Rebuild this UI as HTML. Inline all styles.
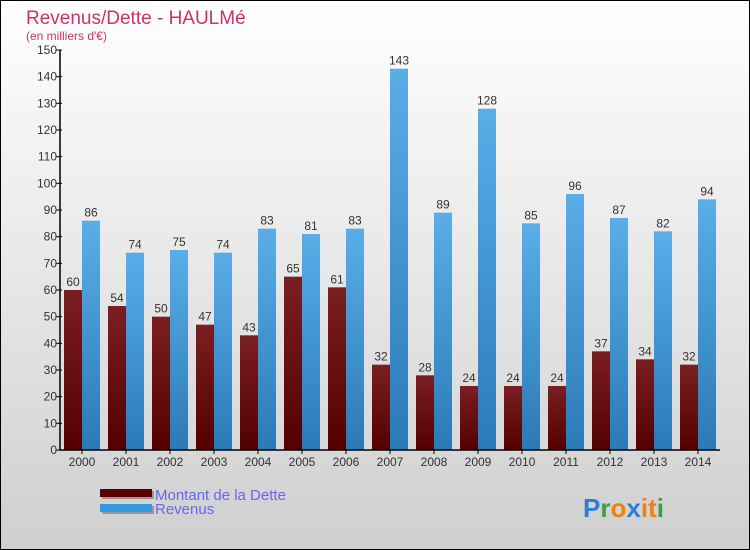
<!DOCTYPE html>
<html><head><meta charset="utf-8"><style>
body{margin:0}
svg{display:block;font-family:"Liberation Sans",sans-serif}
</style></head><body>
<svg width="750" height="550">
<defs>
<linearGradient id="bg" x1="0" y1="0" x2="0" y2="1"><stop offset="0" stop-color="#ffffff"/><stop offset="1" stop-color="#cfcfcf"/></linearGradient>
<linearGradient id="gd" x1="0" y1="0" x2="0" y2="1"><stop offset="0" stop-color="#7a1e22"/><stop offset="1" stop-color="#540000"/></linearGradient>
<linearGradient id="gr" x1="0" y1="0" x2="0" y2="1"><stop offset="0" stop-color="#5aaee8"/><stop offset="1" stop-color="#2a7ab8"/></linearGradient>
</defs>
<rect x="0.5" y="0.5" width="749" height="549" fill="url(#bg)" stroke="#000"/>
<text x="26" y="24" font-size="19" fill="#c8346a">Revenus/Dette - HAULMé</text>
<text x="26" y="40" font-size="12" fill="#c8346a">(en milliers d'€)</text>
<g id="plot"></g>
<g>
<rect x="102" y="491" width="52" height="8" fill="#999"/><rect x="100" y="489" width="52" height="8" fill="#5c0000"/>
<text x="155" y="500" font-size="15" fill="#6666ee">Montant de la Dette</text>
<rect x="102" y="506" width="52" height="8" fill="#999"/><rect x="100" y="504" width="52" height="8" fill="#3399e0"/>
<text x="155" y="514" font-size="15" fill="#6666ee">Revenus</text>
</g>
<g font-size="26" font-weight="bold">
<text x="583" y="517"><tspan fill="#2a7fd4">P</tspan><tspan fill="#3aa040">r</tspan><tspan fill="#f08010">o</tspan><tspan fill="#2a7fd4">x</tspan><tspan fill="#f08010">i</tspan><tspan fill="#f08010">t</tspan><tspan fill="#3aa040">i</tspan></text>
</g>
</svg>
<script>
const years=["2000","2001","2002","2003","2004","2005","2006","2007","2008","2009","2010","2011","2012","2013","2014"];
const dette=[60,54,50,47,43,65,61,32,28,24,24,24,37,34,32];
const revenus=[86,74,75,74,83,81,83,143,89,128,85,96,87,82,94];
const yTicks=[0,10,20,30,40,50,60,70,80,90,100,110,120,130,140,150];
const NS="http://www.w3.org/2000/svg";
const g=document.getElementById('plot');
const x0=60,x1=720,yb=450,yt=50,ymax=150;
const cw=(x1-x0)/years.length;
function y(v){return yb-(v/ymax)*(yb-yt);}
function xc(i){return x0+cw*(i+0.5);}
function el(t,a,p){const e=document.createElementNS(NS,t);for(const k in a)e.setAttribute(k,a[k]);(p||g).appendChild(e);return e;}
years.forEach((yr,i)=>{
 const c=xc(i);
 const b1=el('rect',{x:c-18,y:y(dette[i]),width:18,height:yb-y(dette[i]),fill:'url(#gd)'});
 
 
 const b2=el('rect',{x:c,y:y(revenus[i]),width:18,height:yb-y(revenus[i]),fill:'url(#gr)'});
 
 
 const l1=el('text',{x:c-9,y:y(dette[i])-4,'font-size':12,fill:'#333','text-anchor':'middle'});l1.textContent=dette[i];
 
 
 const l2=el('text',{x:c+9,y:y(revenus[i])-4,'font-size':12,fill:'#333','text-anchor':'middle'});l2.textContent=revenus[i];
 
 
 el('line',{x1:c,x2:c,y1:yb,y2:yb+4,stroke:'#000'});
 const t=el('text',{x:c,y:yb+16,'font-size':12,fill:'#333','text-anchor':'middle'});t.textContent=yr;
 
 
});
yTicks.forEach(v=>{
 el('line',{x1:x0-4,x2:x0+2,y1:y(v),y2:y(v),stroke:'#000'});
 const t=el('text',{x:x0-3,y:y(v)+4,'font-size':12,fill:'#333','text-anchor':'end'});t.textContent=v;
 
 
});
const ya=el('line',{x1:x0,x2:x0,y1:yt,y2:yb,stroke:'#000','stroke-width':1.5});


const xa=el('line',{x1:x0-1,x2:x1,y1:yb,y2:yb,stroke:'#000','stroke-width':1.5});


</script>
</body></html>
